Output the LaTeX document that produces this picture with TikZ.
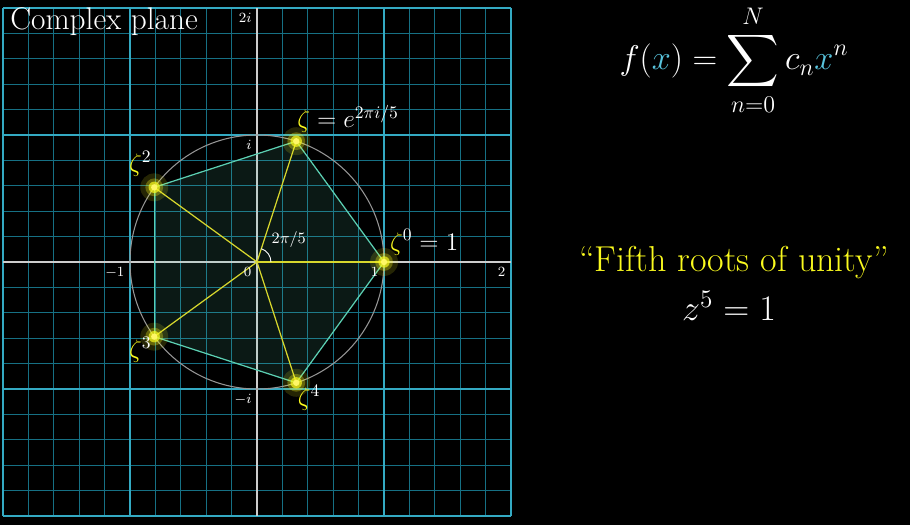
\RequirePackage{fix-cm}
\documentclass[tikz,border=0pt]{standalone}
\usepackage{exscale}
\definecolor{gridmajor}{RGB}{52,170,195}
\definecolor{gridfine}{RGB}{22,112,132}
\definecolor{axiscol}{RGB}{205,205,205}
\definecolor{circcol}{RGB}{150,150,150}
\definecolor{edgecol}{RGB}{92,208,179}
\definecolor{spokecol}{RGB}{215,215,45}
\definecolor{rootyellow}{RGB}{250,250,30}
\definecolor{xblue}{RGB}{88,196,221}
\tikzset{
  finegrid/.style={draw=gridfine, line width=0.45pt},
  majorgrid/.style={draw=gridmajor, line width=0.8pt},
  axis/.style={draw=axiscol, line width=0.8pt},
  rootedge/.style={draw=edgecol, line width=0.7pt},
  spoke/.style={draw=spokecol, line width=0.7pt},
  ticklbl/.style={text=white, font=\footnotesize, anchor=north east, inner sep=3pt},
  rootlbl/.style={text=white, font=\fontsize{14.4}{17}\selectfont, anchor=base west, inner sep=0pt},
  bigtxt/.style={text=white, font=\fontsize{20.5}{24}\selectfont, anchor=base}
}
\begin{document}
\begin{tikzpicture}
\fill[black] (0,0) rectangle (18.2,10.5);
\useasboundingbox (0,0) rectangle (18.2,10.5);

\begin{scope}[shift={(5.14,5.26)}, scale=2.54]
\draw[finegrid] (-2,-2) grid[step=0.2] (2,2);
\draw[majorgrid] (-2,-2) grid[step=1] (2,2);
\coordinate (o) at (0,0);
\draw[axis] (-2,0) -- (2,0);
\draw[axis] (0,-2) -- (0,2);
\draw[circcol, line width=0.6pt] (o) circle (1);

\foreach \k in {0,...,4}
  \coordinate (z\k) at (72*\k:1);
\fill[edgecol, opacity=0.12] (z0) -- (z1) -- (z2) -- (z3) -- (z4) -- cycle;
\foreach \from/\to in {z0/z1,z1/z2,z2/z3,z3/z4,z4/z0}
  \draw[rootedge] (\from) -- (\to);
\foreach \k in {0,...,4}
  \draw[spoke] (o) -- (z\k);
\draw[white, line width=0.5pt] ([shift={(0:0.11)}]o) arc[start angle=0, end angle=72, radius=0.11];
\node[text=white, font=\small] (ang) at (0.25,0.18) {$2\pi/5$};

\foreach \k in {0,...,4} {
  \fill[rootyellow, opacity=0.15] (z\k) circle (0.11);
  \fill[rootyellow, opacity=0.3] (z\k) circle (0.07);
  \fill[rootyellow, opacity=0.7] (z\k) circle (0.045);
  \fill[yellow!60!white] (z\k) circle (0.025);
}

\node[ticklbl] (t2i) at (0,2) {$2i$};
\node[ticklbl] (ti) at (0,1) {$i$};
\node[ticklbl] (tmi) at (0,-1) {$-i$};
\node[ticklbl] (tm1) at (-1,0) {$-1$};
\node[ticklbl] (t0) at (0,0) {$0$};
\node[ticklbl] (t1) at (1,0) {$1$};
\node[ticklbl] (t2) at (2,0) {$2$};

\node[rootlbl] (l0) at (1.045,0.094) {$\color{rootyellow}\zeta\color{white}^0 = 1$};
\node[rootlbl] (l1) at (0.315,1.06) {$\color{rootyellow}\zeta\color{white} = e^{2\pi i/5}$};
\node[rootlbl] (l2) at (-1.01,0.71) {$\color{rootyellow}\zeta\color{white}^2$};
\node[rootlbl] (l3) at (-1.01,-0.75) {$\color{rootyellow}\zeta\color{white}^3$};
\node[rootlbl] (l4) at (0.32,-1.13) {$\color{rootyellow}\zeta\color{white}^4$};

\node[text=white, font=\fontsize{17.8}{21}\selectfont, anchor=base west, inner sep=0pt] (title) at (-1.945,1.83) {Complex plane};
\end{scope}

\node[bigtxt, font=\fontsize{19.5}{23}\selectfont] (poly) at (14.68,9.1) {$\displaystyle f(\textcolor{xblue}{x}) = \sum_{n=0}^{N} c_n \textcolor{xblue}{x}^n$};
\node[bigtxt, text=rootyellow] (roots) at (14.68,5.06) {``Fifth roots of unity''};
\node[bigtxt] (eqn) at (14.58,4.08) {$z^5 = 1$};
\end{tikzpicture}
\end{document}
